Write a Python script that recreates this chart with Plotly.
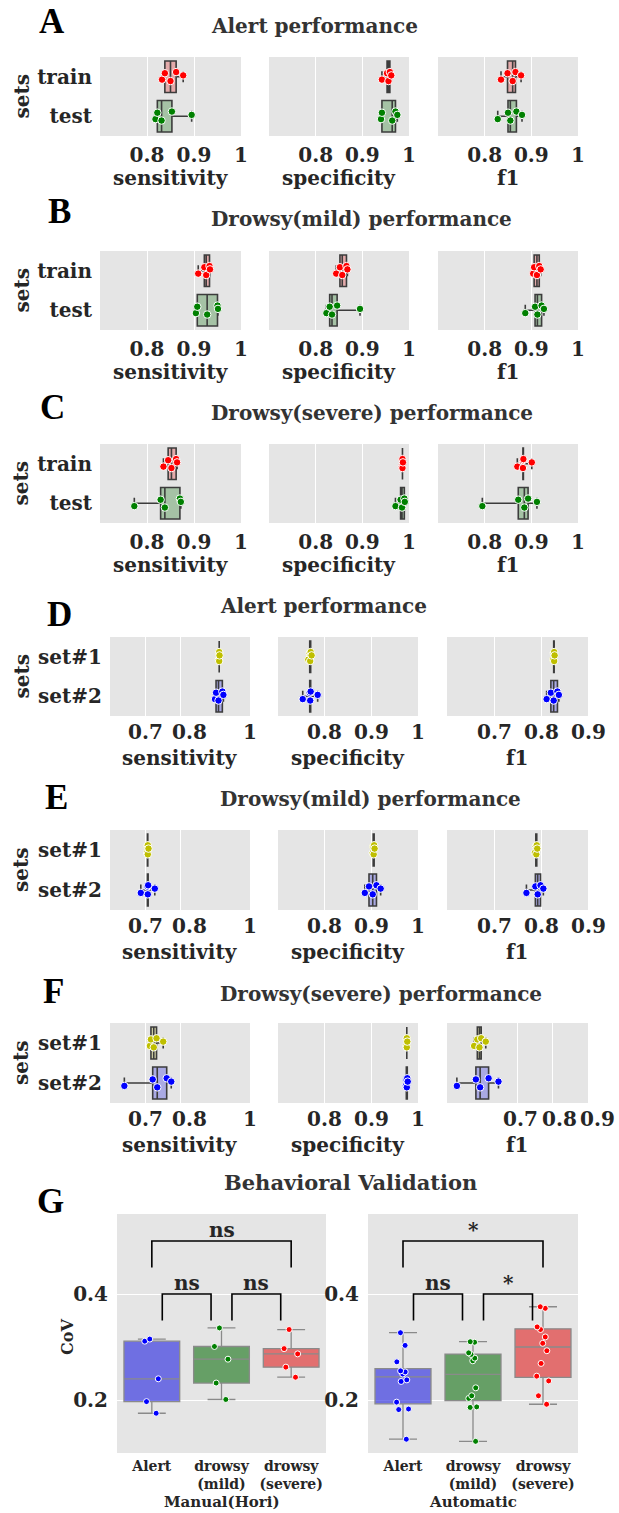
import numpy as np
import plotly.graph_objects as go

W, H = 619, 1513

# ------------------------------------------------------------------ data
metrics = ["sensitivity", "specificity", "f1"]
sets_ABC = ["train", "test"]
sets_DEF = ["set#1", "set#2"]
row_titles = ["Alert performance", "Drowsy(mild) performance", "Drowsy(severe) performance",
              "Alert performance", "Drowsy(mild) performance", "Drowsy(severe) performance"]
row_letters = ["A", "B", "C", "D", "E", "F"]

# A : Alert performance (train / test)
A_sens_train = [0.832, 0.838, 0.850, 0.862, 0.877]
A_sens_test = [0.818, 0.822, 0.831, 0.853, 0.895]
A_spec_train = [0.942, 0.953, 0.956, 0.959, 0.962]
A_spec_test = [0.940, 0.942, 0.964, 0.971, 0.975]
A_f1_train = [0.835, 0.849, 0.860, 0.866, 0.878]
A_f1_test = [0.828, 0.850, 0.855, 0.868, 0.880]
# B : Drowsy(mild)
B_sens_train = [0.909, 0.922, 0.926, 0.933, 0.934]
B_sens_test = [0.904, 0.907, 0.928, 0.950, 0.951]
B_spec_train = [0.844, 0.852, 0.857, 0.866, 0.868]
B_spec_test = [0.823, 0.830, 0.835, 0.846, 0.895]
B_f1_train = [0.904, 0.906, 0.912, 0.917, 0.920]
B_f1_test = [0.887, 0.908, 0.913, 0.922, 0.927]
# C : Drowsy(severe)
C_sens_train = [0.835, 0.845, 0.852, 0.862, 0.864]
C_sens_test = [0.773, 0.829, 0.838, 0.870, 0.872]
C_spec_train = [0.985, 0.986, 0.986, 0.986, 0.987]
C_spec_test = [0.971, 0.982, 0.985, 0.990, 0.991]
C_f1_train = [0.870, 0.882, 0.882, 0.883, 0.901]
C_f1_test = [0.795, 0.872, 0.885, 0.893, 0.912]
# D : Alert (set#1 / set#2)
D_sens_set1 = [0.911, 0.912, 0.912, 0.912, 0.913]
D_sens_set2 = [0.900, 0.903, 0.910, 0.921, 0.924]
D_spec_set1 = [0.765, 0.768, 0.769, 0.770, 0.772]
D_spec_set2 = [0.753, 0.768, 0.769, 0.770, 0.785]
D_f1_set1 = [0.826, 0.827, 0.828, 0.828, 0.829]
D_f1_set2 = [0.812, 0.821, 0.827, 0.835, 0.838]
# E : Drowsy(mild)
E_sens_set1 = [0.706, 0.707, 0.708, 0.708, 0.710]
E_sens_set2 = [0.688, 0.707, 0.708, 0.709, 0.728]
E_spec_set1 = [0.903, 0.904, 0.905, 0.906, 0.907]
E_spec_set2 = [0.886, 0.895, 0.903, 0.911, 0.920]
E_f1_set1 = [0.787, 0.789, 0.790, 0.791, 0.792]
E_f1_set2 = [0.769, 0.788, 0.793, 0.799, 0.805]
# F : Drowsy(severe)
F_sens_set1 = [0.714, 0.717, 0.725, 0.733, 0.752]
F_sens_set2 = [0.641, 0.722, 0.735, 0.762, 0.775]
F_spec_set1 = [0.975, 0.976, 0.976, 0.976, 0.977]
F_spec_set2 = [0.974, 0.975, 0.976, 0.977, 0.978]
F_f1_set1 = [0.577, 0.586, 0.592, 0.597, 0.610]
F_f1_set2 = [0.528, 0.582, 0.594, 0.618, 0.646]

# tick labels
ticks_ABC = [[0.8, 0.9, 1.0]] * 3
ticktext_ABC = [["0.8", "0.9", "1"]] * 3
ticks_DEF = [[0.7, 0.8, 1.0], [0.8, 0.9, 1.0], [0.7, 0.8, 0.9]]
ticktext_DEF = [["0.7", "0.8", "1"], ["0.8", "0.9", "1"], ["0.7", "0.8", "0.9"]]

# G : Behavioral validation (CoV)
G_groups = ["Alert", "drowsy<br>(mild)", "drowsy<br>(severe)"]
G_manual_alert = [0.175, 0.197, 0.240, 0.311, 0.315]
G_manual_mild = [0.201, 0.232, 0.277, 0.301, 0.336]
G_manual_severe = [0.243, 0.262, 0.287, 0.297, 0.333]
G_auto_alert = [0.126, 0.182, 0.183, 0.196, 0.235, 0.238, 0.249, 0.253, 0.255, 0.272, 0.303, 0.327]
G_auto_mild = [0.122, 0.186, 0.187, 0.203, 0.208, 0.223, 0.274, 0.279, 0.286, 0.289, 0.309, 0.310]
G_auto_severe = [0.192, 0.208, 0.236, 0.245, 0.269, 0.293, 0.307, 0.319, 0.333, 0.338, 0.373, 0.376]
G_pairs = [(0, 1), (1, 2), (0, 2)]
G_manual_sig = ["ns", "ns", "ns"]
G_auto_sig = ["ns", "*", "*"]
G_ticks = [0.2, 0.4]
G_ticktext = ["0.2", "0.4"]

panels = [
    [(A_sens_train, A_sens_test), (A_spec_train, A_spec_test), (A_f1_train, A_f1_test)],
    [(B_sens_train, B_sens_test), (B_spec_train, B_spec_test), (B_f1_train, B_f1_test)],
    [(C_sens_train, C_sens_test), (C_spec_train, C_spec_test), (C_f1_train, C_f1_test)],
    [(D_sens_set1, D_sens_set2), (D_spec_set1, D_spec_set2), (D_f1_set1, D_f1_set2)],
    [(E_sens_set1, E_sens_set2), (E_spec_set1, E_spec_set2), (E_f1_set1, E_f1_set2)],
    [(F_sens_set1, F_sens_set2), (F_spec_set1, F_spec_set2), (F_f1_set1, F_f1_set2)],
]

# ------------------------------------------------------------------ style / layout
FONT = "DejaVu Serif"
TXT = "#262626"
BG = "#e5e5e5"
FS = 20
rows_px = [(57, 136), (251, 330), (444, 523), (637, 716), (830, 910), (1023, 1103)]
cols_ABC = [(100, 241), (269, 409), (438, 578)]
cols_DEF = [(110, 250), (278, 418), (447, 588)]
ranges_ABC = [[0.7, 1.0], [0.7, 1.0], [0.7, 1.0]]
ranges_DEF = [[[0.6, 1.0], [0.7, 1.0], [0.6, 0.9]],
              [[0.6, 1.0], [0.7, 1.0], [0.6, 0.9]],
              [[0.6, 1.0], [0.7, 1.0], [0.5, 0.9]]]
# small label nudges (px) so crowded tick labels sit apart as in the source figure
label_shift_DEF = [[[0, 10, 0], [0, 0, 0], [0, 0, 0]],
                   [[0, 10, 0], [0, 0, 0], [0, 0, 0]],
                   [[0, 10, 0], [0, 0, 0], [3, 7, 9]]]
title_x = [209, 209, 209, 218, 218, 218]
title_y = [26, 219, 413, 606, 799, 994]
letter_xy = [(52, 22), (59, 212), (52, 407), (59, 614), (56, 797), (53, 992)]
fill_ABC = ["#e3aaaa", "#a5c2a5"]
pt_ABC = ["#ff0000", "#008000"]
fill_DEF = ["#d2d2a7", "#aaaae3"]
pt_DEF = ["#bfbf00", "#0000ff"]


def px_x(v):
    return v / W


def px_y(v):
    return 1 - v / H


def bold(size, color=TXT, family=FONT):
    return dict(family=family, size=size, color=color, weight="bold")


fig = go.Figure()
layout = dict(width=W, height=H, margin=dict(l=0, r=0, t=0, b=0, autoexpand=False),
              paper_bgcolor="white", plot_bgcolor=BG, showlegend=False,
              boxmode="overlay", font=dict(family=FONT, color=TXT))
annotations = []

ax = 0
for r in range(6):
    is_abc = r < 3
    cats = sets_ABC if is_abc else sets_DEF
    cols = cols_ABC if is_abc else cols_DEF
    top, bot = rows_px[r]
    for c in range(3):
        ax += 1
        xa = "x" if ax == 1 else f"x{ax}"
        ya = "y" if ax == 1 else f"y{ax}"
        rng = ranges_ABC[c] if is_abc else ranges_DEF[r - 3][c]
        tv = ticks_ABC[c] if is_abc else ticks_DEF[c]
        tt = ticktext_ABC[c] if is_abc else ticktext_DEF[c]
        xkey = "xaxis" if ax == 1 else f"xaxis{ax}"
        layout[xkey] = dict(
            domain=[px_x(cols[c][0]), px_x(cols[c][1])], anchor=ya, range=rng,
            showgrid=True, gridcolor="white", gridwidth=1, tickvals=tv,
            zeroline=False, showline=False, showticklabels=is_abc,
            ticktext=tt, ticks="outside", ticklen=1, tickangle=0, automargin=False,
            tickcolor="rgba(0,0,0,0)", tickfont=bold(FS))
        if not is_abc:
            # tick labels drawn as text just under the axis (nudged apart where crowded)
            span = rng[1] - rng[0]
            for v, t, s in zip(tv, tt, label_shift_DEF[r - 3][c]):
                xpix = cols[c][0] + (v - rng[0]) / span * (cols[c][1] - cols[c][0]) + s
                annotations.append(dict(
                    text=t, x=px_x(xpix), y=px_y(bot + 16), xref="paper", yref="paper",
                    showarrow=False, xanchor="center", yanchor="middle", font=bold(FS)))
        layout["yaxis" if ax == 1 else f"yaxis{ax}"] = dict(
            domain=[px_y(bot), px_y(top)], anchor=xa, range=[1.5, -0.5],
            tickvals=[0, 1], ticktext=cats, showticklabels=(c == 0),
            showgrid=False, zeroline=False, ticks="outside", ticklen=3, automargin=False,
            tickcolor="rgba(0,0,0,0)", tickfont=bold(FS))
        for k in range(2):
            vals = np.array(panels[r][c][k], dtype=float)
            q1, med, q3 = np.percentile(vals, [25, 50, 75])
            fill = fill_ABC[k] if is_abc else fill_DEF[k]
            pcol = pt_ABC[k] if is_abc else pt_DEF[k]
            fig.add_trace(go.Box(
                y=[k], q1=[q1], median=[med], q3=[q3],
                lowerfence=[vals.min()], upperfence=[vals.max()],
                orientation="h", width=0.8, whiskerwidth=0.35, boxpoints=False,
                fillcolor=fill, line=dict(color="#3c3c3c", width=1.6),
                xaxis=xa, yaxis=ya, hoverinfo="skip"))
            fig.add_trace(go.Box(
                x=vals, y=[k] * len(vals), orientation="h", width=0.8,
                boxpoints="all", jitter=0.35, pointpos=0, whiskerwidth=0,
                fillcolor="rgba(0,0,0,0)", line=dict(color="rgba(0,0,0,0)", width=0),
                marker=dict(color=pcol, size=7.5, line=dict(color="white", width=1)),
                xaxis=xa, yaxis=ya, hoverinfo="skip"))
        annotations.append(dict(
            text=metrics[c], x=px_x((cols[c][0] + cols[c][1]) / 2), y=px_y(bot + 42),
            xref="paper", yref="paper", showarrow=False, xanchor="center", yanchor="middle",
            font=bold(FS)))
    annotations.append(dict(
        text="sets", x=px_x(21), y=px_y((top + bot) / 2), textangle=-90,
        xref="paper", yref="paper", showarrow=False, xanchor="center", yanchor="middle",
        font=bold(FS)))
    annotations.append(dict(
        text=row_titles[r], x=px_x(title_x[r]), y=px_y(title_y[r]),
        xref="paper", yref="paper", showarrow=False, xanchor="left", yanchor="middle",
        font=bold(FS, "#333333")))
    annotations.append(dict(
        text=row_letters[r], x=px_x(letter_xy[r][0]), y=px_y(letter_xy[r][1]),
        xref="paper", yref="paper", showarrow=False, xanchor="center", yanchor="middle",
        font=bold(35, "black", "Liberation Serif")))

# ------------------------------------------------------------------ panel G
G_cols = [(117, 326), (368, 578)]
G_top, G_bot = 1214, 1453
G_sets = [(G_manual_alert, G_manual_mild, G_manual_severe),
          (G_auto_alert, G_auto_mild, G_auto_severe)]
G_sigs = [G_manual_sig, G_auto_sig]
G_xtitles = ["Manual(Hori)", "Automatic"]
G_fill = ["rgba(32,32,223,0.6)", "rgba(16,112,16,0.6)", "rgba(223,32,32,0.6)"]
G_pt = ["#0000ff", "#008000", "#ff0000"]
for g in range(2):
    ax += 1
    xa, ya = f"x{ax}", f"y{ax}"
    layout[f"xaxis{ax}"] = dict(
        domain=[px_x(G_cols[g][0]), px_x(G_cols[g][1])], anchor=ya, range=[-0.5, 2.5],
        tickvals=[0, 1, 2], ticktext=G_groups, showgrid=False, zeroline=False,
        ticks="outside", ticklen=0, tickangle=0, automargin=False,
        tickcolor="rgba(0,0,0,0)", tickfont=bold(14))
    layout[f"yaxis{ax}"] = dict(
        domain=[px_y(G_bot), px_y(G_top)], anchor=xa, range=[0.1, 0.551],
        tickvals=G_ticks, ticktext=G_ticktext, showgrid=True, gridcolor="white",
        zeroline=False, ticks="outside", ticklen=4, automargin=False,
        tickcolor="rgba(0,0,0,0)", tickfont=bold(FS))
    for i in range(3):
        vals = np.array(G_sets[g][i], dtype=float)
        q1, med, q3 = np.percentile(vals, [25, 50, 75])
        fig.add_trace(go.Box(
            x=[i], q1=[q1], median=[med], q3=[q3],
            lowerfence=[vals.min()], upperfence=[vals.max()],
            width=0.8, whiskerwidth=0.5, boxpoints=False,
            fillcolor=G_fill[i], line=dict(color="#8a8a8a", width=1.3),
            xaxis=xa, yaxis=ya, hoverinfo="skip"))
        fig.add_trace(go.Box(
            y=vals, x=[i] * len(vals), width=0.8,
            boxpoints="all", jitter=0.3, pointpos=0, whiskerwidth=0,
            fillcolor="rgba(0,0,0,0)", line=dict(color="rgba(0,0,0,0)", width=0),
            marker=dict(color=G_pt[i], size=6, line=dict(color="white", width=1)),
            xaxis=xa, yaxis=ya, hoverinfo="skip"))
    for (a, b), lab in zip(G_pairs, G_sigs[g]):
        inset = 0.15 if b - a == 1 else 0.0
        base, topv = (0.35, 0.40) if b - a == 1 else (0.45, 0.50)
        fig.add_trace(go.Scatter(
            x=[a + inset, a + inset, b - inset, b - inset], y=[base, topv, topv, base],
            mode="lines", line=dict(color="black", width=1.6),
            xaxis=xa, yaxis=ya, hoverinfo="skip"))
        annotations.append(dict(
            text=lab, x=(a + b) / 2, y=topv - 0.005, xref=xa, yref=ya,
            showarrow=False, xanchor="center", yanchor="bottom", font=bold(FS)))
    annotations.append(dict(
        text=G_xtitles[g], x=px_x((G_cols[g][0] + G_cols[g][1]) / 2), y=px_y(1502),
        xref="paper", yref="paper", showarrow=False, xanchor="center", yanchor="middle",
        font=bold(15)))

annotations.append(dict(
    text="CoV", x=px_x(67), y=px_y(1337), textangle=-90,
    xref="paper", yref="paper", showarrow=False, xanchor="center", yanchor="middle",
    font=bold(16)))
annotations.append(dict(
    text="Behavioral Validation", x=px_x(350), y=px_y(1182),
    xref="paper", yref="paper", showarrow=False, xanchor="center", yanchor="middle",
    font=bold(21, "#333333")))
annotations.append(dict(
    text="G", x=px_x(50), y=px_y(1201),
    xref="paper", yref="paper", showarrow=False, xanchor="center", yanchor="middle",
    font=bold(35, "black", "Liberation Serif")))

layout["annotations"] = annotations
fig.update_layout(**layout)
fig.write_html("out.html")
